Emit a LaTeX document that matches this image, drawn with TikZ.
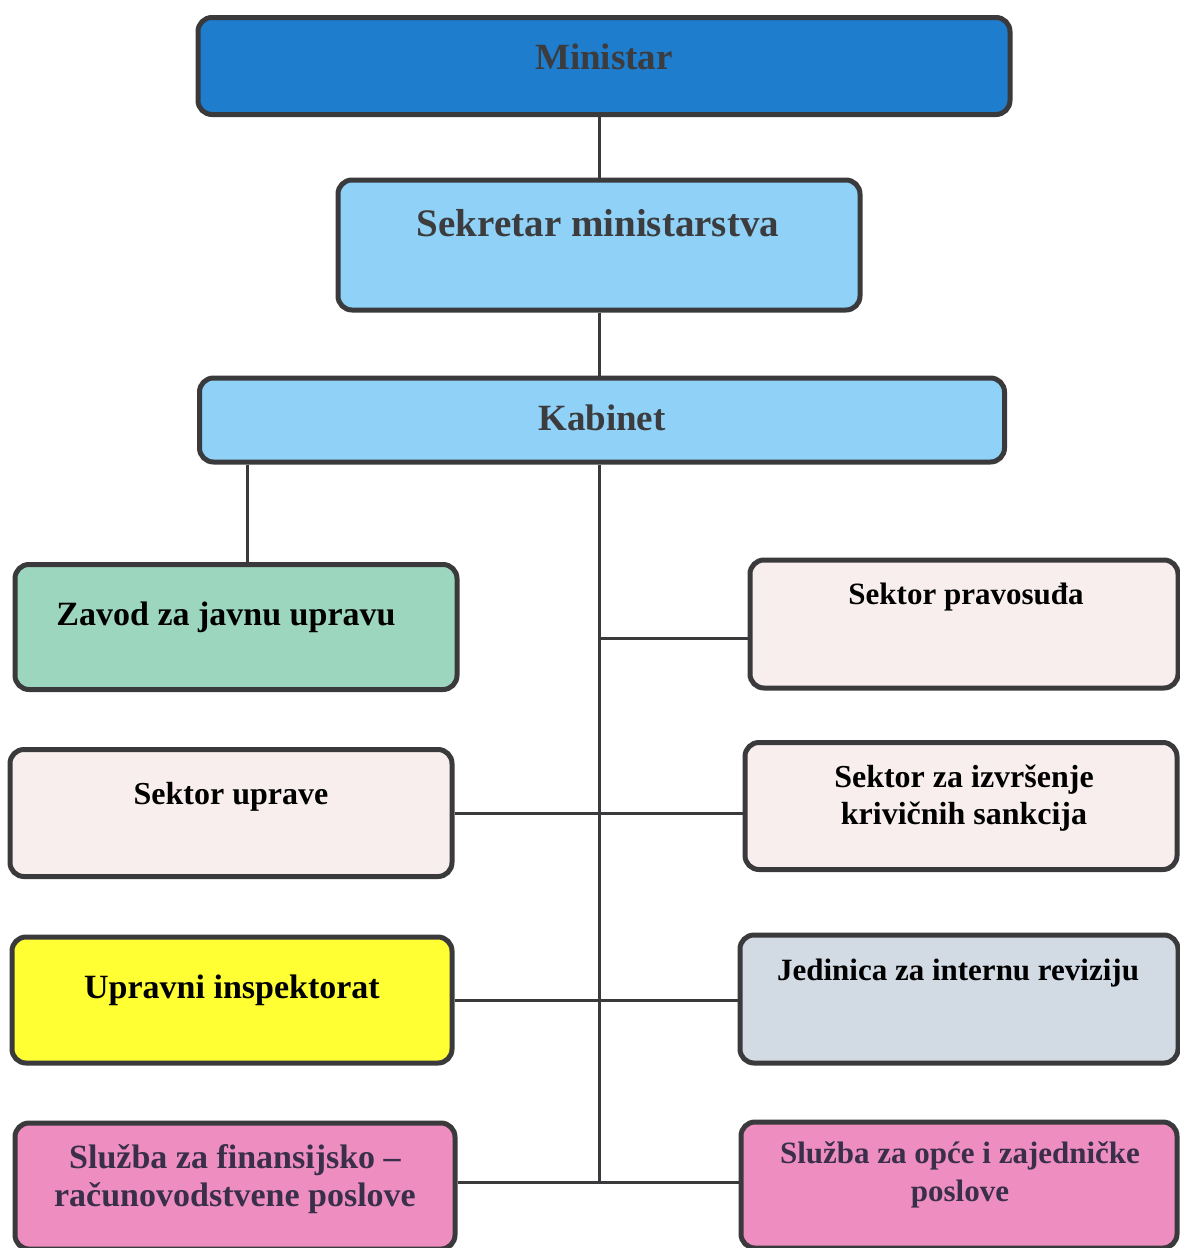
\documentclass[tikz,border=0pt]{standalone}
\usepackage{fontspec}
\setmainfont{Liberation Serif}
\usepackage{tikz}
\usetikzlibrary{positioning,calc}
\definecolor{boxline}{RGB}{58,58,60}
\definecolor{minblue}{RGB}{30,125,205}
\definecolor{lightblue}{RGB}{143,209,247}
\definecolor{zavgreen}{RGB}{157,214,191}
\definecolor{palerose}{RGB}{248,238,238}
\definecolor{inspyellow}{RGB}{255,255,51}
\definecolor{revgray}{RGB}{210,218,228}
\definecolor{sluzpink}{RGB}{238,142,192}
\definecolor{toptext}{RGB}{60,60,62}
\definecolor{sluztext}{RGB}{58,47,74}

\begin{document}
\begin{tikzpicture}[
  x=1pt,y=-1pt,
  box/.style={draw=boxline,line width=5pt,rounded corners=14pt,inner sep=0pt},
  lbl/.style={font=\bfseries\fontsize{#1}{37}\selectfont,align=center,text=black},
  lbl/.default=32,
  toplbl/.style={font=\bfseries\fontsize{#1}{42}\selectfont,align=center,text=toptext},
  toplbl/.default=37,
  sluzlbl/.style={font=\bfseries\fontsize{#1}{38}\selectfont,align=center,text=sluztext},
  sluzlbl/.default=31,
  conn/.style={draw=boxline,line width=3pt},
]
\useasboundingbox (0,0) rectangle (1180,1248);

\node[box,fill=minblue,minimum width=812pt,minimum height=97pt] (min) at (604,66) {};
\node[box,fill=lightblue,minimum width=522pt,minimum height=130pt] (sek) at (599,245) {};
\node[box,fill=lightblue,minimum width=805pt,minimum height=84pt] (kab) at (602,420) {};

\node[box,fill=zavgreen,minimum width=442pt,minimum height=125pt] (zav) at (236,627) {};
\node[box,fill=palerose,minimum width=428pt,minimum height=128pt] (prav) at (964,624) {};
\node[box,fill=palerose,minimum width=442pt,minimum height=127pt] (upr) at (231,813) {};
\node[box,fill=palerose,minimum width=432pt,minimum height=127pt] (izv) at (961,806) {};
\node[box,fill=inspyellow,minimum width=440pt,minimum height=126pt] (insp) at (232,1000) {};
\node[box,fill=revgray,minimum width=438pt,minimum height=128pt] (jed) at (959,999) {};
\node[box,fill=sluzpink,minimum width=440pt,minimum height=126pt] (fin) at (235,1186) {};
\node[box,fill=sluzpink,minimum width=436pt,minimum height=126pt] (opc) at (959,1185) {};

\node[toplbl] (tmin) at (604,57) {Ministar};
\node[toplbl=39] (tsek) at (598,223) {Sekretar ministarstva};
\node[toplbl] (tkab) at (602,418) {Kabinet};
\node[lbl=34] (tzav) at (226,617) {Zavod za javnu upravu};
\node[lbl=31] (tprav) at (966,597) {Sektor pravosuđa};
\node[lbl] (tupr) at (231,797) {Sektor uprave};
\node[lbl] (tizv) at (964,798) {Sektor za izvršenje\\krivičnih sankcija};
\node[lbl=34] (tinsp) at (232,990) {Upravni inspektorat};
\node[lbl=31] (tjed) at (958,973) {Jedinica za internu reviziju};
\node[sluzlbl=34] (tfin) at (235,1179) {Služba za finansijsko –\\računovodstvene poslove};
\node[sluzlbl] (topc) at (960,1175) {Služba za opće i zajedničke\\poslove};

\coordinate (trunk) at ([yshift=4pt]fin.east -| sek.north);

\draw[conn] (sek.north) -- (sek.north |- min.south);
\draw[conn] (sek.south) -- (sek.south |- kab.north);
\draw[conn] (kab.south -| sek.south) -- (trunk);
\draw[conn] ([xshift=11pt]zav.north) -- ([xshift=11pt]zav.north |- kab.south);
\draw[conn] ([yshift=-14pt]prav.west) -- ([yshift=-14pt]prav.west -| trunk);
\draw[conn] (upr.east) -- (upr.east -| izv.west);
\draw[conn] (insp.east) -- (insp.east -| jed.west);
\draw[conn] (trunk -| fin.east) -- (trunk -| opc.west);
\end{tikzpicture}
\end{document}
